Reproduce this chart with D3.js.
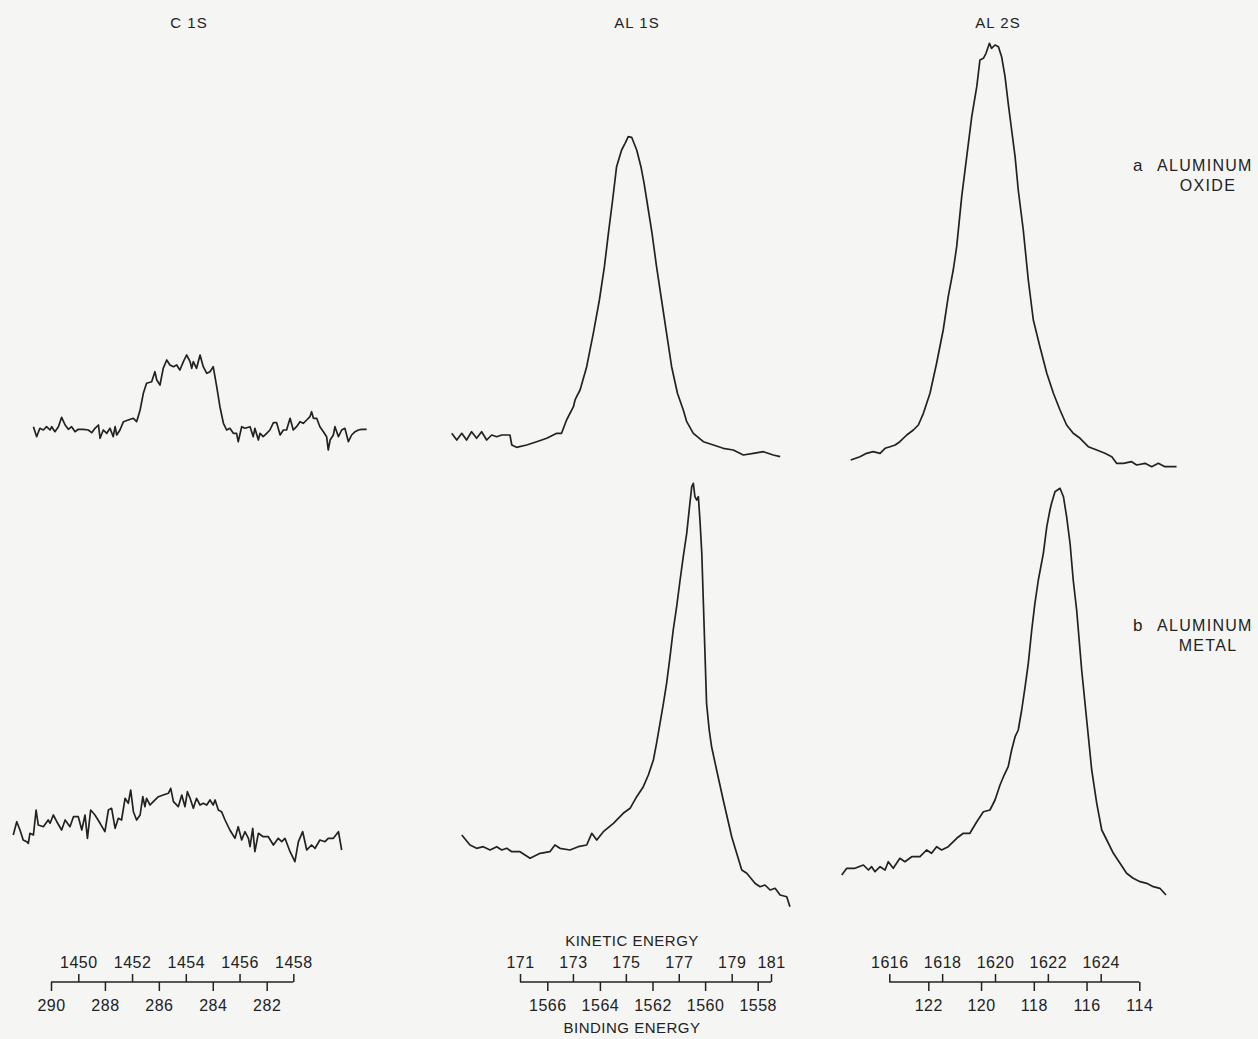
<!DOCTYPE html>
<html>
<head>
<meta charset="utf-8">
<script src="https://cdn.jsdelivr.net/npm/d3@7"></script>
<style>
  html, body { margin: 0; padding: 0; background: #f5f5f3; }
  svg { display: block; }
  text { font-family: "Liberation Sans", "DejaVu Sans", sans-serif; fill: #222; }
</style>
</head>
<body>
<svg id="chart" width="1258" height="1039"></svg>
<script>
// ---------------- DATA ----------------
const panelTitles = ["C 1S", "AL 1S", "AL 2S"];
const sampleLetters = ["a", "b"];
const sampleNames = [["ALUMINUM", "OXIDE"], ["ALUMINUM", "METAL"]];
const kineticTitle = "KINETIC ENERGY";
const bindingTitle = "BINDING ENERGY";

const c1sKineticTicks = [1450, 1452, 1454, 1456, 1458];
const c1sBindingTicks = [290, 288, 286, 284, 282];
const al1sKineticTicks = [171, 173, 175, 177, 179, 181];
const al1sBindingTicks = [1566, 1564, 1562, 1560, 1558];
const al2sKineticTicks = [1616, 1618, 1620, 1622, 1624];
const al2sBindingTicks = [122, 120, 118, 116, 114];

// spectra: [kinetic energy (eV), intensity (arb. units)]
const c1sOxide = [[1448.33,53.3],[1448.45,43.3],[1448.57,51.7],[1448.70,50],[1448.82,53.3],[1448.95,50],[1449.01,53.3],[1449.13,48.3],[1449.26,53.3],[1449.38,62.7],[1449.51,55],[1449.63,50.7],[1449.75,53.3],[1449.88,48.3],[1450.00,50.7],[1450.19,50.7],[1450.37,50],[1450.50,47.3],[1450.62,51.7],[1450.75,55],[1450.81,41.7],[1450.93,50],[1451.06,46.7],[1451.18,51.7],[1451.30,43.3],[1451.37,53.3],[1451.43,45],[1451.55,50],[1451.68,58.3],[1451.86,60],[1452.05,61.7],[1452.17,58.3],[1452.30,70],[1452.42,86.7],[1452.54,96.7],[1452.73,98.3],[1452.85,108.3],[1452.92,100],[1453.04,95],[1453.16,111.7],[1453.29,120],[1453.41,115],[1453.54,113.3],[1453.66,115],[1453.78,110],[1453.91,118.3],[1454.03,125],[1454.16,118.3],[1454.22,111.7],[1454.28,118.3],[1454.40,111.7],[1454.53,125],[1454.65,113.3],[1454.78,106.7],[1454.90,108.3],[1455.02,113.3],[1455.15,93.3],[1455.27,73.3],[1455.40,56.7],[1455.52,50],[1455.64,51.7],[1455.77,46.7],[1455.89,46.7],[1455.95,38.3],[1456.08,53.3],[1456.20,51.7],[1456.39,53.3],[1456.51,43.3],[1456.57,51.7],[1456.70,40],[1456.76,46.7],[1456.88,43.3],[1457.01,46.7],[1457.13,50],[1457.26,57.3],[1457.38,57.3],[1457.51,45],[1457.63,50],[1457.75,50],[1457.88,61.7],[1458.00,50],[1458.12,53.3],[1458.25,58.3],[1458.37,56.7],[1458.50,60],[1458.62,63.3],[1458.68,68.3],[1458.75,61.7],[1458.87,61.7],[1458.99,53.3],[1459.12,48.3],[1459.24,43.3],[1459.30,30],[1459.37,40],[1459.49,45],[1459.55,53.3],[1459.68,43.3],[1459.80,50],[1459.92,51.7],[1460.05,38.3],[1460.17,45],[1460.30,48.3],[1460.42,50],[1460.54,50.7],[1460.73,50.7]];

const c1sMetal = [[1447.58,85],[1447.71,98.3],[1447.83,90],[1447.95,80],[1448.08,78.3],[1448.14,76.7],[1448.20,86.7],[1448.33,85],[1448.43,110],[1448.51,95],[1448.70,93.3],[1448.88,100],[1448.95,96.7],[1449.07,105],[1449.20,98.3],[1449.38,90],[1449.51,100],[1449.69,93.3],[1449.82,103.3],[1450.00,103.3],[1450.13,90],[1450.25,105],[1450.34,81.7],[1450.46,110],[1450.62,105],[1450.81,96.7],[1450.99,88.3],[1451.12,110],[1451.24,111.7],[1451.37,91.7],[1451.49,101.7],[1451.61,100],[1451.74,121.7],[1451.86,116.7],[1451.95,130],[1452.05,108.3],[1452.17,100],[1452.30,105],[1452.40,123.3],[1452.48,113.3],[1452.54,121.7],[1452.67,115],[1452.79,118.3],[1452.98,123.3],[1453.16,125],[1453.35,126.7],[1453.44,131.7],[1453.54,118.3],[1453.72,113.3],[1453.85,125],[1453.97,113.3],[1454.06,128.3],[1454.16,121.7],[1454.28,111.7],[1454.40,121.7],[1454.53,115],[1454.65,116.7],[1454.78,115],[1454.90,120],[1455.02,115],[1455.09,120],[1455.21,110],[1455.33,108.3],[1455.46,100],[1455.64,90],[1455.83,81.7],[1455.95,93.3],[1456.08,80],[1456.20,88.3],[1456.33,81.7],[1456.39,73.3],[1456.49,91.7],[1456.57,68.3],[1456.70,86.7],[1456.88,83.3],[1457.07,83.3],[1457.26,75],[1457.44,81.7],[1457.57,78.3],[1457.69,81.7],[1457.88,68.3],[1458.06,58.3],[1458.19,78.3],[1458.35,88.3],[1458.50,70],[1458.68,75],[1458.81,71.7],[1458.99,80],[1459.18,78.3],[1459.30,81.7],[1459.49,81.7],[1459.68,88.3],[1459.80,70]];

const al1sOxide = [[168.42,46.7],[168.61,40],[168.80,46.7],[168.98,40],[169.17,48.3],[169.36,41.7],[169.55,48.3],[169.74,40],[169.93,45],[170.12,43.3],[170.31,45],[170.62,45],[170.69,35],[170.87,32.7],[171.25,35],[171.63,38.3],[172.01,41.7],[172.39,46.7],[172.57,46.7],[172.76,60],[173.02,73.3],[173.08,80],[173.14,83.3],[173.27,90],[173.52,113.3],[173.77,146.7],[174.00,180],[174.19,213.3],[174.34,246.7],[174.50,280],[174.65,313.3],[174.84,330],[174.97,336.7],[175.09,343.3],[175.22,342.7],[175.41,330],[175.57,313.3],[175.69,296.7],[175.79,280],[175.99,246.7],[176.16,213.3],[176.35,180],[176.54,146.7],[176.73,113.3],[176.95,86.7],[177.17,70],[177.30,58.3],[177.55,46.7],[177.93,38.3],[178.31,35],[178.68,31.7],[179.06,30],[179.44,25],[179.82,26.7],[180.20,28.3],[180.57,25],[180.83,23.3]];

const al1sMetal = [[168.80,85],[169.11,75],[169.36,71.7],[169.61,73.3],[169.87,70],[170.12,73.3],[170.31,70],[170.50,71.7],[170.69,68.3],[171.00,68.3],[171.38,61.7],[171.76,66.7],[172.13,68.3],[172.32,75],[172.51,71.7],[172.89,70],[173.20,73.3],[173.52,75],[173.71,86.7],[173.90,80],[174.15,88.3],[174.53,96.7],[174.90,106.7],[175.16,111.7],[175.41,123.3],[175.66,133.3],[175.85,145],[176.04,160],[176.16,176.7],[176.29,196.7],[176.42,216.7],[176.54,236.7],[176.67,263.3],[176.79,290],[176.92,313.3],[177.05,340],[177.17,363.3],[177.30,386.7],[177.42,416.7],[177.49,433.3],[177.55,436.7],[177.61,423.3],[177.68,420],[177.74,423.3],[177.80,400],[177.87,366.7],[177.93,316.7],[177.99,266.7],[178.05,216.7],[178.15,190],[178.24,173.3],[178.43,150],[178.68,120],[179.00,83.3],[179.38,50],[179.57,46.7],[179.88,36.7],[180.07,33.3],[180.26,35],[180.45,30],[180.64,31.7],[180.83,25],[181.08,23.3],[181.20,13.3]];

const al2sOxide = [[1614.54,20],[1614.89,23.3],[1615.14,26.7],[1615.39,28.3],[1615.65,26.7],[1615.84,31.7],[1616.03,33.3],[1616.22,35],[1616.40,38.3],[1616.66,45],[1616.91,50],[1617.10,55],[1617.29,66.7],[1617.54,86.7],[1617.79,116.7],[1618.04,150],[1618.23,183.3],[1618.42,210],[1618.55,233.3],[1618.74,283.3],[1618.93,323.3],[1619.12,363.3],[1619.31,393.3],[1619.43,420],[1619.56,421.7],[1619.66,426.7],[1619.79,436.7],[1619.87,431.7],[1620.00,435],[1620.13,433.3],[1620.25,423.3],[1620.38,403.3],[1620.50,376.7],[1620.63,350],[1620.76,323.3],[1620.88,290],[1621.07,250],[1621.26,200],[1621.45,160],[1621.70,133.3],[1621.96,106.7],[1622.21,86.7],[1622.46,70],[1622.71,55],[1622.96,46.7],[1623.22,41.7],[1623.53,33.3],[1623.85,30],[1624.16,26.7],[1624.42,23.3],[1624.60,16.7],[1624.86,16.7],[1625.17,18.3],[1625.36,15],[1625.68,16.7],[1625.93,13.3],[1626.18,16.7],[1626.43,13.3],[1626.87,13.3]];

const al2sMetal = [[1614.20,45],[1614.39,51.7],[1614.70,51.7],[1615.02,55],[1615.21,50],[1615.33,53.3],[1615.46,48.3],[1615.65,53.3],[1615.84,50],[1615.96,58.3],[1616.15,51.7],[1616.40,61.7],[1616.59,58.3],[1616.85,63.3],[1617.16,63.3],[1617.41,70],[1617.60,66.7],[1617.79,73.3],[1617.98,70],[1618.23,73.3],[1618.55,81.7],[1618.80,86.7],[1619.05,86.7],[1619.31,98.3],[1619.56,108.3],[1619.81,110],[1620.00,120],[1620.19,135],[1620.32,143.3],[1620.50,153.3],[1620.63,170],[1620.76,183.3],[1620.88,190],[1621.01,210],[1621.14,233.3],[1621.26,256.7],[1621.39,290],[1621.51,316.7],[1621.64,340],[1621.83,366.7],[1621.96,393.3],[1622.08,410],[1622.14,416.7],[1622.27,428.3],[1622.46,431.7],[1622.59,423.3],[1622.71,403.3],[1622.84,376.7],[1622.96,340],[1623.09,310],[1623.28,250],[1623.47,200],[1623.66,150],[1623.85,116.7],[1624.04,90],[1624.23,80],[1624.48,66.7],[1624.73,56.7],[1624.98,46.7],[1625.23,41.7],[1625.49,38.3],[1625.74,36.7],[1625.99,33.3],[1626.24,31.7],[1626.47,25]];

// ---------------- LAYOUT / SCALES ----------------
const svg = d3.select("#chart");
const ink = "#222";

const yOxide = d3.scaleLinear().domain([0, 440]).range([480, 40]);
const yMetal = d3.scaleLinear().domain([0, 440]).range([920, 480]);

const panels = [
  {
    title: panelTitles[0], titleX: 189,
    xData: d3.scaleLinear().domain([1450, 1458]).range([78.3, 293.3]),
    xKin: d3.scaleLinear().domain([1450, 1458]).range([78.3, 293.3]),
    xBind: d3.scaleLinear().domain([290, 282]).range([51, 266.7]),
    kinTicks: c1sKineticTicks, bindTicks: c1sBindingTicks,
    oxide: c1sOxide, metal: c1sMetal
  },
  {
    title: panelTitles[1], titleX: 637,
    xData: d3.scaleLinear().domain([171, 179]).range([520, 731.7]),
    xKin: d3.scaleLinear().domain([171, 179, 181]).range([520, 731.7, 771]),
    xBind: d3.scaleLinear().domain([1566, 1558]).range([547.3, 757.7]),
    kinTicks: al1sKineticTicks, bindTicks: al1sBindingTicks,
    oxide: al1sOxide, metal: al1sMetal, axisTitles: true, axisTitleX: 632
  },
  {
    title: panelTitles[2], titleX: 998,
    xData: d3.scaleLinear().domain([1616, 1624]).range([889.3, 1100.7]),
    xKin: d3.scaleLinear().domain([1616, 1624]).range([889.3, 1100.7]),
    xBind: d3.scaleLinear().domain([122, 114]).range([928.3, 1139.3]),
    kinTicks: al2sKineticTicks, bindTicks: al2sBindingTicks,
    oxide: al2sOxide, metal: al2sMetal
  }
];

const axisY = 982;

panels.forEach(p => {
  // title
  svg.append("text")
    .attr("x", p.titleX).attr("y", 28)
    .attr("text-anchor", "middle")
    .style("font-size", "15px").style("letter-spacing", "1px")
    .text(p.title);

  // spectra
  [[p.oxide, yOxide], [p.metal, yMetal]].forEach(([series, y]) => {
    const line = d3.line().x(d => p.xData(d[0])).y(d => y(d[1]));
    svg.append("path")
      .datum(series)
      .attr("d", line)
      .attr("fill", "none")
      .attr("stroke", ink)
      .attr("stroke-width", 1.7)
      .attr("stroke-linejoin", "round");
  });

  // energy axis: kinetic ticks above, binding ticks below
  const gK = svg.append("g").attr("transform", `translate(0,${axisY})`)
    .call(d3.axisTop(p.xKin).tickValues(p.kinTicks).tickFormat(d3.format("d"))
      .tickSize(8).tickSizeOuter(0).tickPadding(6));
  const gB = svg.append("g").attr("transform", `translate(0,${axisY})`)
    .call(d3.axisBottom(p.xBind).tickValues(p.bindTicks).tickFormat(d3.format("d"))
      .tickSize(9).tickSizeOuter(0).tickPadding(9));
  [gK, gB].forEach(g => {
    g.select(".domain").remove();
    g.selectAll(".tick line").attr("stroke", ink).attr("stroke-width", 1.5);
    g.selectAll(".tick text")
      .attr("fill", ink)
      .style("font-family", "'Liberation Sans', 'DejaVu Sans', sans-serif")
      .style("font-size", "16px")
      .style("letter-spacing", "0.5px");
  });
  const ext = d3.extent(p.kinTicks.map(p.xKin).concat(p.bindTicks.map(p.xBind)));
  svg.append("line")
    .attr("x1", ext[0]).attr("x2", ext[1])
    .attr("y1", axisY).attr("y2", axisY)
    .attr("stroke", ink).attr("stroke-width", 1.5);

  if (p.axisTitles) {
    svg.append("text").attr("x", p.axisTitleX).attr("y", 946)
      .attr("text-anchor", "middle")
      .style("font-size", "15px").style("letter-spacing", "0.5px")
      .text(kineticTitle);
    svg.append("text").attr("x", p.axisTitleX).attr("y", 1033)
      .attr("text-anchor", "middle")
      .style("font-size", "15px").style("letter-spacing", "0.5px")
      .text(bindingTitle);
  }
});

// sample labels
const labelRows = [{ y: 171 }, { y: 631 }];
labelRows.forEach((r, i) => {
  svg.append("text").attr("x", 1133).attr("y", r.y)
    .style("font-size", "17px").text(sampleLetters[i]);
  svg.append("text").attr("x", 1157).attr("y", r.y)
    .style("font-size", "16px").style("letter-spacing", "1.3px")
    .text(sampleNames[i][0]);
  svg.append("text").attr("x", 1208).attr("y", r.y + 20)
    .attr("text-anchor", "middle")
    .style("font-size", "16px").style("letter-spacing", "1.3px")
    .text(sampleNames[i][1]);
});
</script>
</body>
</html>
